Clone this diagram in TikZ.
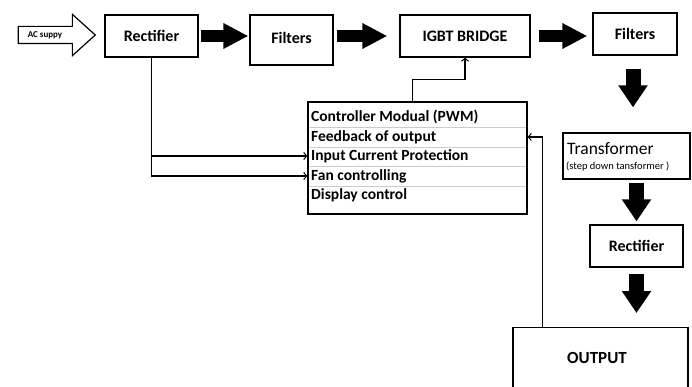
\documentclass[tikz,border=0pt]{standalone}
\usepackage{fontspec}
\setmainfont{Carlito}
\usetikzlibrary{arrows.meta,shapes.arrows,calc}
\begin{document}
\begin{tikzpicture}[x=1pt,y=-1pt,
  box/.style={draw=black,line width=1.3pt,rectangle,inner sep=0pt,font=\bfseries\fontsize{16}{18}\selectfont},
  bigright/.style={line width=12pt,-{Triangle[length=25pt,width=24pt]}},
  bigdown/.style={line width=15pt,-{Triangle[length=22pt,width=28pt]}},
  thin/.style={line width=1.2pt},
  tip/.style={-{Straight Barb[length=3pt,width=7pt,line width=1pt]}},
  rowtxt/.style={anchor=west,inner sep=0pt,font=\bfseries\fontsize{15.5}{17}\selectfont},
  sep/.style={draw=black!20,line width=0.8pt}
]
\useasboundingbox (0,0) rectangle (692,387);
\fill[white] (0,0) rectangle (692,387);

% AC supply outlined arrow
\node[single arrow,draw=black,line width=1.2pt,inner xsep=1pt,inner ysep=4.5pt,
  single arrow head extend=12pt,single arrow tip angle=84,
  minimum height=77pt,
  font=\bfseries\fontsize{9}{10}\selectfont,text height=6pt,text depth=1pt] (ac) at (52,35) {AC suppy\hspace*{14pt}};

% top row
\node[box,minimum width=93pt,minimum height=42pt] (rect1) at (151.5,36) {Rectifier};
\node[box,minimum width=83pt,minimum height=50pt] (filt1) at (291.5,40) {\raisebox{5pt}{Filters}};
\node[box,minimum width=130pt,minimum height=42pt] (igbt) at (465,36) {IGBT BRIDGE};
\node[box,minimum width=84pt,minimum height=42pt] (filt2) at (635,34) {Filters};

% controller
\node[draw=black,line width=1.3pt,minimum width=219pt,minimum height=112pt,inner sep=0pt] (ctrl) at (417.5,158) {};
\foreach \yy in {127,147,166,186}{\draw[sep] (309,\yy) -- (526,\yy);}
\node[rowtxt] (r1) at (311,117) {Controller Modual (PWM)};
\node[rowtxt] (r2) at (311,137) {Feedback of output};
\node[rowtxt] (r3) at (311,156) {Input Current Protection};
\node[rowtxt] (r4) at (311,176) {Fan controlling};
\node[rowtxt] (r5) at (311,195) {Display control};

% right column
\node[draw=black,line width=1.3pt,minimum width=127pt,minimum height=46pt,inner sep=0pt] (trans) at (626.5,156) {};
\node[anchor=west,inner sep=0pt,font=\fontsize{17.5}{19}\selectfont] (tt) at (567,149) {Transformer};
\node[anchor=west,inner sep=0pt,font=\fontsize{10.5}{12}\selectfont] (ts) at (566,167) {(step down tansformer )};
\node[box,minimum width=93pt,minimum height=42pt] (rect2) at (636.5,246) {Rectifier};
\node[draw=black,line width=1.3pt,minimum width=175pt,minimum height=80pt,inner sep=0pt,anchor=north] (out) at (600.5,327) {};
\node[inner sep=0pt,font=\bfseries\fontsize{17}{19}\selectfont] (ot) at (597,358) {OUTPUT};

% thick arrows
\draw[bigright] ([xshift=2pt]rect1.east) -- ([xshift=-1pt]filt1.west |- rect1.east);
\draw[bigright] ([xshift=3pt]filt1.east |- rect1.east) -- ([xshift=-12pt]igbt.west);
\draw[bigright] ([xshift=8pt]igbt.east) -- ([xshift=-5pt]filt2.west |- igbt.east);
\draw[bigdown] ([yshift=-13pt]filt2.south -| 633,0) -- ([yshift=25pt]trans.north -| 633,0);
\draw[bigdown] ([yshift=-3pt]trans.south -| rect2) -- ([yshift=3pt]rect2.north);
\draw[bigdown] ([yshift=-6pt]rect2.south) -- ([yshift=14pt]out.north -| rect2);

% thin connectors
\draw[thin,tip] (rect1.south) |- (ctrl.west |- r4);
\draw[thin,tip] (rect1.south |- r3) -- (ctrl.west |- r3);
\draw[thin,tip] ([xshift=-5pt]ctrl.north) -- ++(0,-22) -| (igbt.south);
\draw[thin,tip] ([xshift=30pt]out.north west) |- (ctrl.east |- r2);
\end{tikzpicture}
\end{document}
